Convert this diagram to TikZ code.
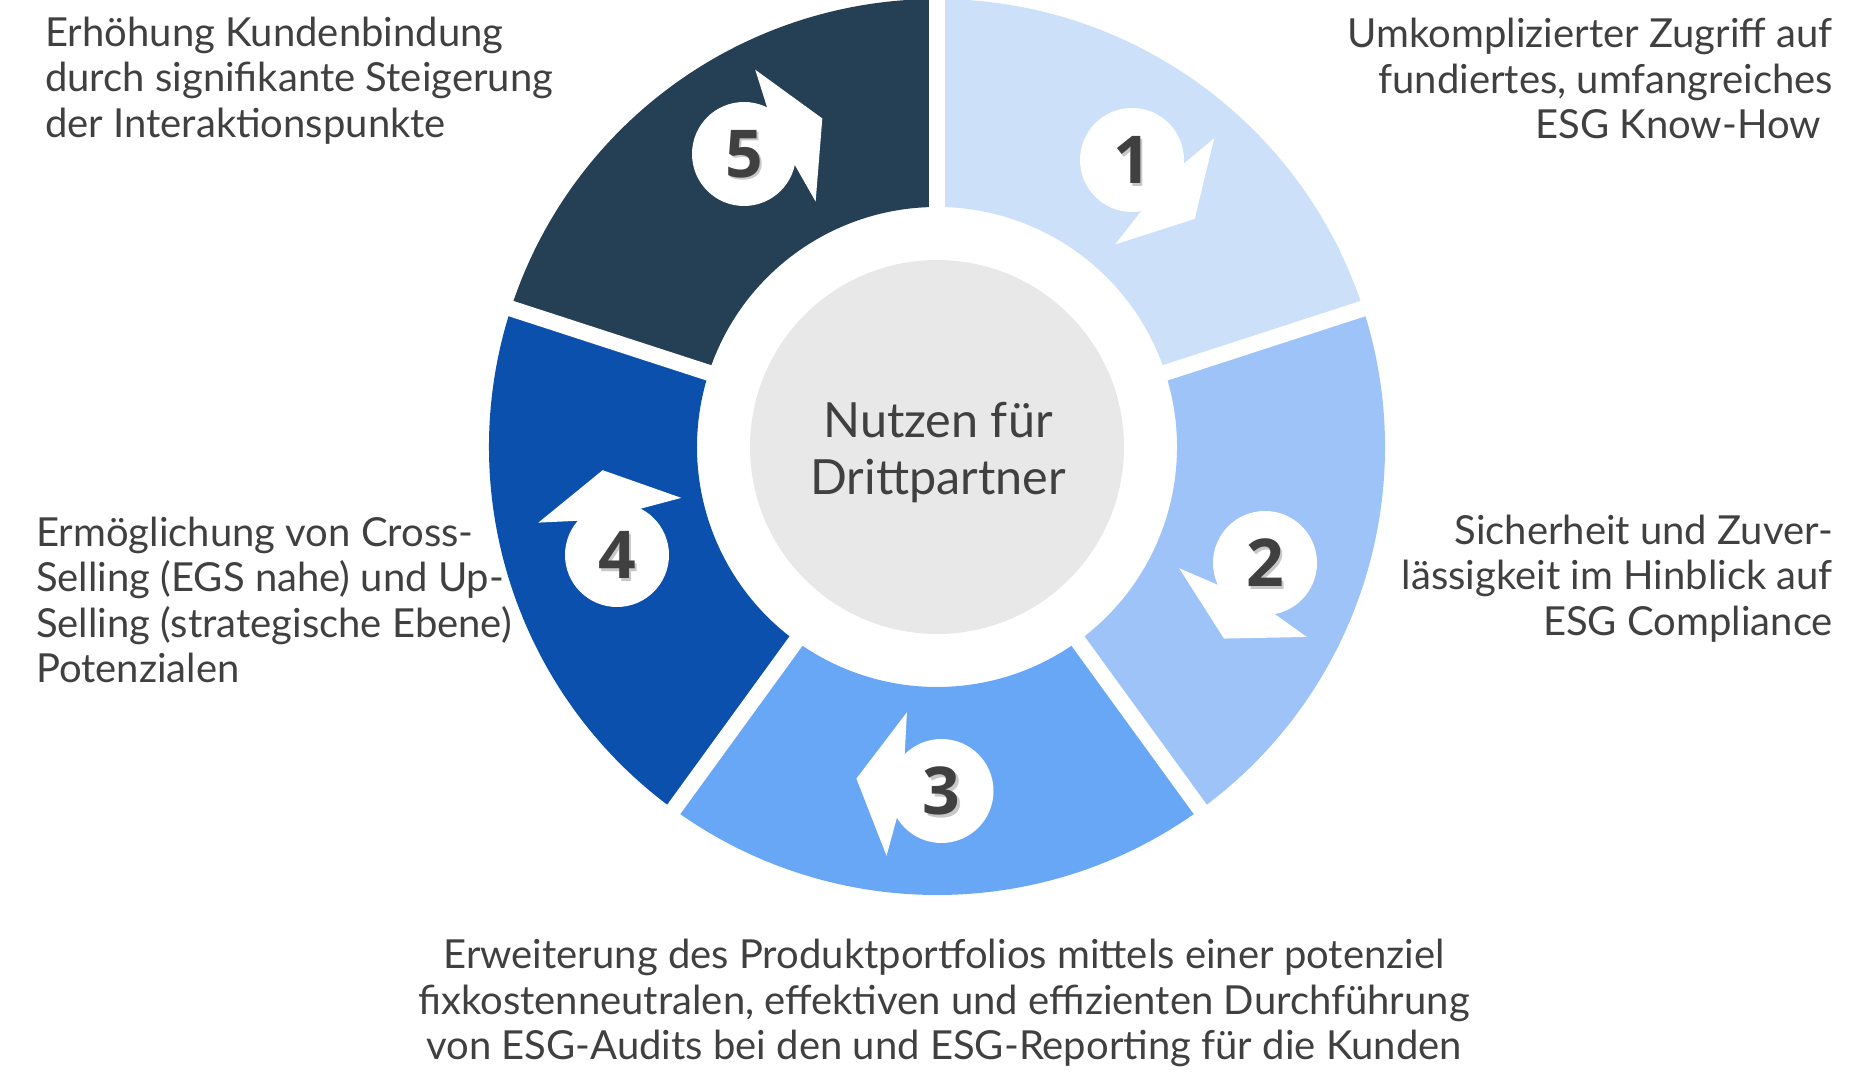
\documentclass[tikz,border=0pt]{standalone}
\usepackage{fontspec}
\setmainfont{Lato}
\newfontfamily\numfont{Open Sans}
\usetikzlibrary{calc}
\definecolor{segA}{HTML}{CCE0FA}
\definecolor{segB}{HTML}{9DC3F9}
\definecolor{segC}{HTML}{68A6F6}
\definecolor{segD}{HTML}{0B50AC}
\definecolor{segE}{HTML}{253F55}
\definecolor{midgray}{HTML}{E8E8E8}
\definecolor{txtgray}{HTML}{404040}
\definecolor{shadowgray}{HTML}{C8C8C8}
\tikzset{
  txt/.style={text=txtgray, inner sep=0pt, font=\fontsize{40}{45.5}\selectfont},
  numtxt/.style={text=txtgray, inner sep=0pt, font=\numfont\bfseries\fontsize{66}{66}\selectfont},
  numshadow/.style={text=shadowgray, inner sep=0pt, font=\numfont\bfseries\fontsize{66}{66}\selectfont},
  numball/.style={circle, fill=white, minimum size=104pt, inner sep=0pt},
  gap/.style={white, line width=16pt}
}
\begin{document}
\begin{tikzpicture}[x=1pt,y=1pt]
\useasboundingbox (0,0) rectangle (1863,1086);
\coordinate (O) at (937,639);
% ring segments
\foreach \a/\c in {90/segA,18/segB,-54/segC,-126/segD,162/segE}{
  \fill[\c] ($(O)+(\a:448)$) arc[start angle=\a, delta angle=-72, radius=448]
     -- ($(O)+({\a-72}:240)$) arc[start angle={\a-72}, delta angle=72, radius=240] -- cycle;
}
\foreach \a in {90,18,-54,-126,162}{
  \draw[gap] (O) -- ($(O)+(\a:470)$);
}
% centre
\node[circle, fill=midgray, minimum size=374pt, inner sep=0pt] (mid) at (O) {};
\node[text=txtgray, inner sep=0pt, align=center, font=\fontsize{48.5}{57}\selectfont] (midtxt) at (938,633) {Nutzen für\\Drittpartner};
% number balls with arrowheads
\foreach \i/\x/\y/\p in {1/1132/926/55.8, 2/1265/523/-19.5, 3/941.5/295/-89.3, 4/617/531/-161.4, 5/744/932/123.4}{
  \node[numball] (c\i) at (\x,\y) {};
  \fill[white] ($(c\i.center)+({\p-62}:50)$) -- ($(c\i.center)+({\p-41}:85)$)
     -- ($(c\i.center)+({\p-99}:86)$) -- ($(c\i.center)+({\p-157}:86)$)
     -- ($(c\i.center)+({\p-133}:50)$) -- cycle;
  \node[numshadow] at ($(c\i.center)+(2.5,-2.5)$) {\i};
  \node[numtxt] (n\i) at (c\i.center) {\i};
}
% texts
\node[txt, anchor=north west, align=left] (t5) at (45,1069.5) {Erhöhung Kundenbindung\\durch signifikante Steigerung\\der Interaktionspunkte};
\node[txt, anchor=north east, align=right] (t1) at (1833,1068) {Umkomplizierter Zugriff auf\\fundiertes, umfangreiches\\ESG Know-How\kern12pt};
\node[txt, anchor=north east, align=right] (t2) at (1833,571.5) {Sicherheit und Zuver-\\lässigkeit im Hinblick auf\\ESG Compliance};
\node[txt, anchor=north west, align=left] (t4) at (36,569.5) {Ermöglichung von Cross-\\Selling (EGS nahe) und Up-\\Selling (strategische Ebene)\\Potenzialen};
\node[txt, anchor=north, align=center] (t3) at (944,147) {Erweiterung des Produktportfolios mittels einer potenziel\\fixkostenneutralen, effektiven und effizienten Durchführung\\von ESG-Audits bei den und ESG-Reporting für die Kunden};
\end{tikzpicture}
\end{document}
